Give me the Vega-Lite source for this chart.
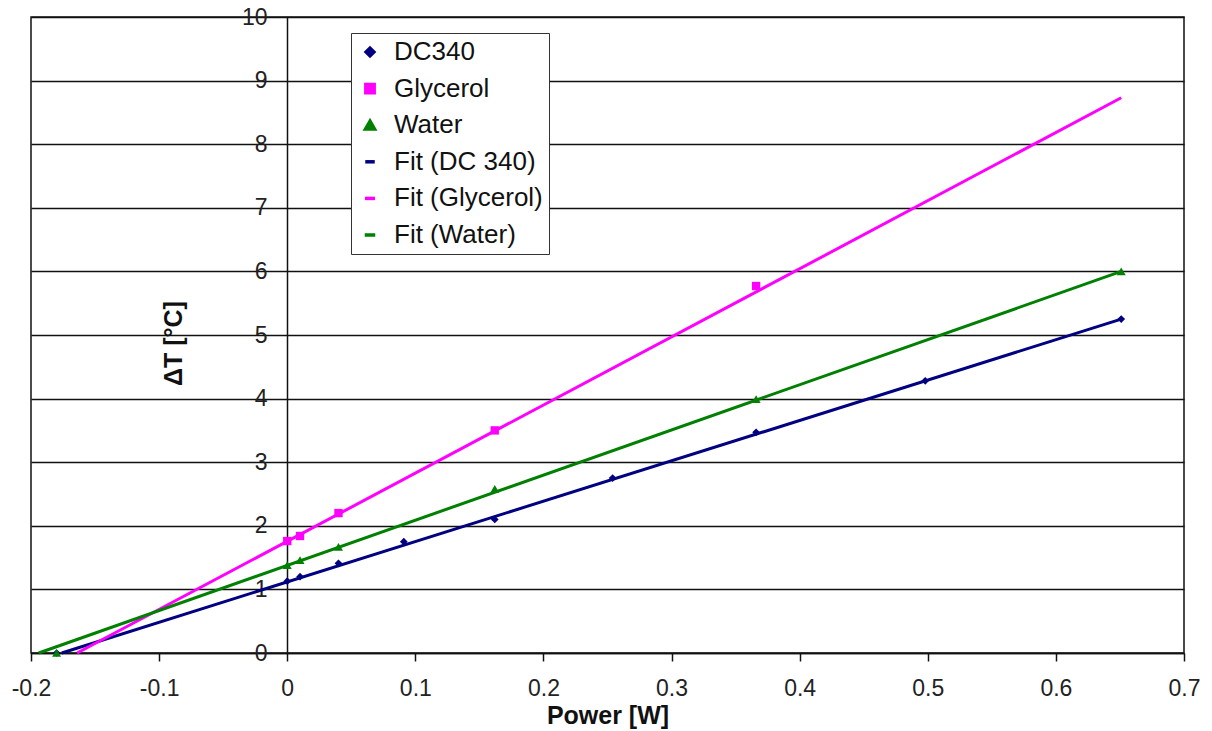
{
  "$schema": "https://vega.github.io/schema/vega-lite/v6.json",
  "width": 1153,
  "height": 636,
  "autosize": "none",
  "padding": {"left": 31, "top": 17, "right": 28, "bottom": 78},
  "background": "white",
  "config": {
    "font": "Liberation Sans",
    "view": {"stroke": "#111", "strokeWidth": 1.5},
    "axis": {"labelFont": "Liberation Sans", "titleFont": "Liberation Sans", "labelColor": "#222", "titleColor": "#111"}
  },
  "data": {
    "values": [
      {"series": "DC340", "kind": "point", "P": -0.18, "dT": 0},
      {"series": "DC340", "kind": "point", "P": 0, "dT": 1.13},
      {"series": "DC340", "kind": "point", "P": 0.01, "dT": 1.2},
      {"series": "DC340", "kind": "point", "P": 0.04, "dT": 1.41},
      {"series": "DC340", "kind": "point", "P": 0.091, "dT": 1.75},
      {"series": "DC340", "kind": "point", "P": 0.162, "dT": 2.1},
      {"series": "DC340", "kind": "point", "P": 0.254, "dT": 2.75},
      {"series": "DC340", "kind": "point", "P": 0.366, "dT": 3.47},
      {"series": "DC340", "kind": "point", "P": 0.498, "dT": 4.28},
      {"series": "DC340", "kind": "point", "P": 0.651, "dT": 5.25},
      {"series": "Glycerol", "kind": "point", "P": 0, "dT": 1.76},
      {"series": "Glycerol", "kind": "point", "P": 0.01, "dT": 1.84},
      {"series": "Glycerol", "kind": "point", "P": 0.04, "dT": 2.2},
      {"series": "Glycerol", "kind": "point", "P": 0.162, "dT": 3.5},
      {"series": "Glycerol", "kind": "point", "P": 0.366, "dT": 5.77},
      {"series": "Water", "kind": "point", "P": -0.18, "dT": 0},
      {"series": "Water", "kind": "point", "P": 0, "dT": 1.38},
      {"series": "Water", "kind": "point", "P": 0.01, "dT": 1.46},
      {"series": "Water", "kind": "point", "P": 0.04, "dT": 1.67},
      {"series": "Water", "kind": "point", "P": 0.162, "dT": 2.58},
      {"series": "Water", "kind": "point", "P": 0.366, "dT": 3.99},
      {"series": "Water", "kind": "point", "P": 0.651, "dT": 6.0},
      {"series": "Fit (DC 340)", "kind": "fit", "P": -0.176, "dT": 0},
      {"series": "Fit (DC 340)", "kind": "fit", "P": 0.651, "dT": 5.25},
      {"series": "Fit (Glycerol)", "kind": "fit", "P": -0.164, "dT": 0},
      {"series": "Fit (Glycerol)", "kind": "fit", "P": 0.651, "dT": 8.73},
      {"series": "Fit (Water)", "kind": "fit", "P": -0.194, "dT": 0},
      {"series": "Fit (Water)", "kind": "fit", "P": 0.651, "dT": 6.0}
    ]
  },
  "encoding": {
    "x": {
      "field": "P", "type": "quantitative",
      "scale": {"domain": [-0.2, 0.7], "nice": false, "zero": false},
      "axis": {
        "values": [-0.2, -0.1, 0, 0.1, 0.2, 0.3, 0.4, 0.5, 0.6, 0.7],
        "labelExpr": "replace(format(datum.value, '~g'), '−', '-')",
        "grid": false, "title": "Power [W]",
        "titleFontSize": 25, "titleFontWeight": "bold", "titlePadding": 3,
        "labelFontSize": 23, "labelPadding": 16, "tickSize": 8, "tickColor": "#111", "tickWidth": 1.5,
        "domainColor": "#111", "domainWidth": 1.5, "labelFlush": false
      }
    },
    "y": {
      "field": "dT", "type": "quantitative",
      "scale": {"domain": [0, 10], "nice": false}
    }
  },
  "layer": [
    {
      "transform": [{"filter": "datum.kind === 'fit'"}],
      "mark": {"type": "line", "strokeWidth": 3},
      "encoding": {
        "y": {
          "field": "dT", "type": "quantitative",
          "axis": {
            "values": [0, 1, 2, 3, 4, 5, 6, 7, 8, 9, 10],
            "orient": "left", "grid": true, "gridColor": "#111", "gridOpacity": 1, "gridWidth": 1.3,
            "labels": false, "ticks": false, "domain": false, "title": null
          }
        },
        "detail": {"field": "series", "type": "nominal"},
        "color": {
          "field": "series", "type": "nominal",
          "scale": {
            "domain": ["DC340", "Glycerol", "Water", "Fit (DC 340)", "Fit (Glycerol)", "Fit (Water)"],
            "range": ["#000080", "#FF00FF", "#008000", "#000080", "#FF00FF", "#008000"]
          },
          "legend": {
            "title": null, "orient": "none", "legendX": 320, "legendY": 16,
            "labelFontSize": 26, "labelFont": "Liberation Sans", "labelColor": "#111", "labelOffset": 11,
            "rowPadding": 10.6, "padding": 6, "symbolStrokeWidth": 3.5, "symbolSize": 1156,
            "strokeColor": "#333", "fillColor": "white",
            "encode": {
              "symbols": {
                "update": {
                  "size": {"value": {"expr": "indexof(datum.value, 'Fit') === 0 ? 1156 : (datum.value === 'DC340' ? 10 : (datum.value === 'Glycerol' ? 36 : 22))"}}
                }
              }
            }
          }
        }
      }
    },
    {
      "transform": [{"filter": "datum.kind === 'point'"}],
      "mark": {"type": "point", "filled": true, "opacity": 1},
      "encoding": {
        "y": {
          "field": "dT", "type": "quantitative",
          "axis": {
            "values": [0, 1, 2, 3, 4, 5, 6, 7, 8, 9, 10],
            "orient": "left", "offset": -256, "grid": false,
            "tickSize": 0, "labelPadding": 20, "labelFontSize": 23, "labelFlush": false,
            "domainColor": "#111", "domainWidth": 1.5,
            "title": "ΔT [°C]", "titleFontSize": 25, "titleFontWeight": "bold",
            "titleX": -114, "titleY": 326, "titleAngle": -90, "titleAlign": "center", "titleBaseline": "middle"
          }
        },
        "color": {"field": "series", "type": "nominal"},
        "shape": {
          "field": "series", "type": "nominal",
          "scale": {
            "domain": ["DC340", "Glycerol", "Water", "Fit (DC 340)", "Fit (Glycerol)", "Fit (Water)"],
            "range": ["diamond", "square", "triangle-up", "stroke", "stroke", "stroke"]
          }
        },
        "size": {
          "field": "series", "type": "nominal",
          "scale": {
            "domain": ["DC340", "Glycerol", "Water", "Fit (DC 340)", "Fit (Glycerol)", "Fit (Water)"],
            "range": [60, 110, 90, 1156, 1156, 1156]
          }
        }
      }
    }
  ],
  "resolve": {"axis": {"y": "independent"}}
}
